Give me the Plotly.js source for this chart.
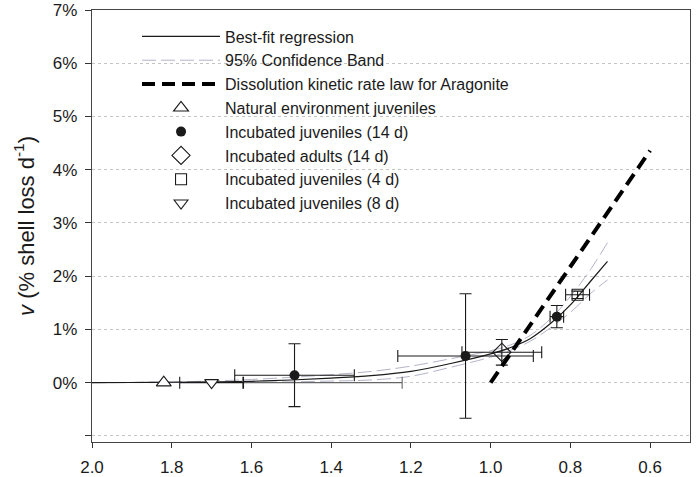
<!DOCTYPE html>
<html><head><meta charset="utf-8">
<script src="https://cdn.plot.ly/plotly-3.0.1.min.js"></script>
<style>html,body{margin:0;padding:0;background:#fff}</style>
</head><body><div id="chart" style="width:696px;height:477px"></div>
<script>
// Regression curve and 95% confidence band (x = saturation state, y = % shell loss per day)
const curveX    = [2.0, 1.9, 1.8, 1.7, 1.6, 1.5, 1.4, 1.3, 1.2, 1.1, 1.0, 0.95, 0.9, 0.85, 0.8, 0.75, 0.707];
const fitY      = [0, 0.003, 0.007, 0.014, 0.025, 0.05, 0.085, 0.13, 0.21, 0.36, 0.54, 0.66, 0.83, 1.11, 1.46, 1.9, 2.28];
const bandUpper = [0, 0.005, 0.015, 0.03, 0.06, 0.1, 0.15, 0.21, 0.31, 0.45, 0.6, 0.71, 0.89, 1.2, 1.62, 2.12, 2.63];
const bandLower = [0, 0.001, 0.002, 0.004, 0.008, 0.015, 0.03, 0.05, 0.12, 0.29, 0.48, 0.61, 0.78, 1.03, 1.32, 1.67, 1.93];
// Dissolution kinetic rate law for aragonite
const aragoniteX = [1.0, 0.6];
const aragoniteY = [0, 4.36];
// Observations
const naturalX = [1.82], naturalY = [0];
const inc14X = [1.492, 1.063, 0.834], inc14Y = [0.14, 0.50, 1.24];
const inc14ErrX = [0.15, 0.17, 0.017], inc14ErrY = [0.59, 1.17, 0.21];
const adultsX = [0.972], adultsY = [0.57], adultsErrX = [0.10], adultsErrY = [0.24];
const inc4X = [0.782], inc4Y = [1.65], inc4ErrX = [0.03], inc4ErrY = [0.07];
const inc8X = [1.70], inc8Y = [0], inc8ErrX = [0.08];
const extraX = [1.422], extraY = [0], extraErrX = [0.2];
// Axis ticks
const yTickVals = [0, 1, 2, 3, 4, 5, 6, 7];
const yTickText = ['0%', '1%', '2%', '3%', '4%', '5%', '6%', '7%'];
const yMinorVals = [-1];
const xTickVals = [2.0, 1.8, 1.6, 1.4, 1.2, 1.0, 0.8, 0.6];

const FONT = 'Liberation Sans, Arial, sans-serif';
const ink = '#1a1a1a';
const bandStyle = {color: '#a9acc0', width: 0.9, dash: '14px,5px'};
const eb = (arr, w) => ({type: 'data', array: arr, visible: true, color: ink, thickness: 1.1, width: w || 6});

const traces = [
  {x: curveX, y: bandUpper, mode: 'lines', name: '95% Confidence Band', line: Object.assign({shape: 'spline'}, bandStyle), legendrank: 2},
  {x: curveX, y: bandLower, mode: 'lines', showlegend: false, line: Object.assign({shape: 'spline'}, bandStyle)},
  {x: curveX, y: fitY, mode: 'lines', name: 'Best-fit regression', line: {color: ink, width: 1.2, shape: 'spline'}, legendrank: 1},
  {x: extraX, y: extraY, mode: 'markers', showlegend: false, marker: {size: 1, opacity: 0}, error_x: Object.assign(eb(extraErrX), {color: '#666'})},
  {x: inc8X, y: inc8Y, mode: 'markers', name: 'Incubated juveniles (8 d)', legendrank: 8,
   marker: {symbol: 'triangle-down', size: 12, color: '#fff', line: {color: ink, width: 1.1}}, error_x: eb(inc8ErrX)},
  {x: naturalX, y: naturalY, mode: 'markers', name: 'Natural environment juveniles', legendrank: 4,
   marker: {symbol: 'triangle-up', size: 13, color: '#fff', line: {color: ink, width: 1.1}}},
  {x: inc14X, y: inc14Y, mode: 'markers', name: 'Incubated juveniles (14 d)', legendrank: 5,
   marker: {symbol: 'circle', size: 10, color: ink}, error_x: eb(inc14ErrX), error_y: eb(inc14ErrY)},
  {x: adultsX, y: adultsY, mode: 'markers', name: 'Incubated adults (14 d)', legendrank: 6,
   marker: {symbol: 'diamond', size: 14, color: 'rgba(255,255,255,0)', line: {color: ink, width: 1.1}}, error_x: eb(adultsErrX), error_y: eb(adultsErrY)},
  {x: inc4X, y: inc4Y, mode: 'markers', name: 'Incubated juveniles (4 d)', legendrank: 7,
   marker: {symbol: 'square', size: 11, color: 'rgba(255,255,255,0)', line: {color: ink, width: 1.1}}, error_x: eb(inc4ErrX), error_y: eb(inc4ErrY)},
  {x: aragoniteX, y: aragoniteY, mode: 'lines', name: 'Dissolution kinetic rate law for Aragonite', legendrank: 3,
   line: {color: '#000', width: 4, dash: '13px,7px'}}
];

const layout = {
  width: 696, height: 477,
  margin: {l: 92, r: 6, t: 10, b: 35, pad: 0},
  paper_bgcolor: '#fff', plot_bgcolor: '#fff',
  font: {family: FONT, color: ink, size: 16},
  showlegend: true,
  legend: {x: 0.0753, y: 0.978, xanchor: 'left', yanchor: 'top', bgcolor: 'rgba(0,0,0,0)', borderwidth: 0,
           font: {family: FONT, size: 16, color: ink}, itemwidth: 78, tracegroupgap: 0, traceorder: 'normal'},
  xaxis: {range: [2.0, 0.5], autorange: false, tickvals: xTickVals, tickformat: '.1f',
          ticks: 'outside', ticklen: 5, tickwidth: 1, tickcolor: '#333', showgrid: false, zeroline: false,
          showline: true, linecolor: '#444', linewidth: 1.2, mirror: true, tickfont: {size: 17}, ticklabelstandoff: 4},
  yaxis: {range: [-1.115, 7], autorange: false, tickvals: yTickVals, ticktext: yTickText,
          ticks: 'outside', ticklen: 6, tickwidth: 1, tickcolor: '#333',
          showgrid: true, gridcolor: '#c4c4c4', gridwidth: 1, griddash: 'dot', zeroline: false,
          minor: {tickvals: yMinorVals, ticks: 'outside', ticklen: 6, tickwidth: 1, tickcolor: '#333',
                  showgrid: true, gridcolor: '#c4c4c4', gridwidth: 1, griddash: 'dot'},
          showline: true, linecolor: '#444', linewidth: 1.2, mirror: true, tickfont: {size: 17}, ticklabelstandoff: 4,
          title: {text: '<i>v</i> (% shell loss d<sup>-1</sup>)', font: {size: 22}, standoff: 12}}
};

Plotly.newPlot('chart', traces, layout, {displayModeBar: false, staticPlot: true});
</script></body></html>
